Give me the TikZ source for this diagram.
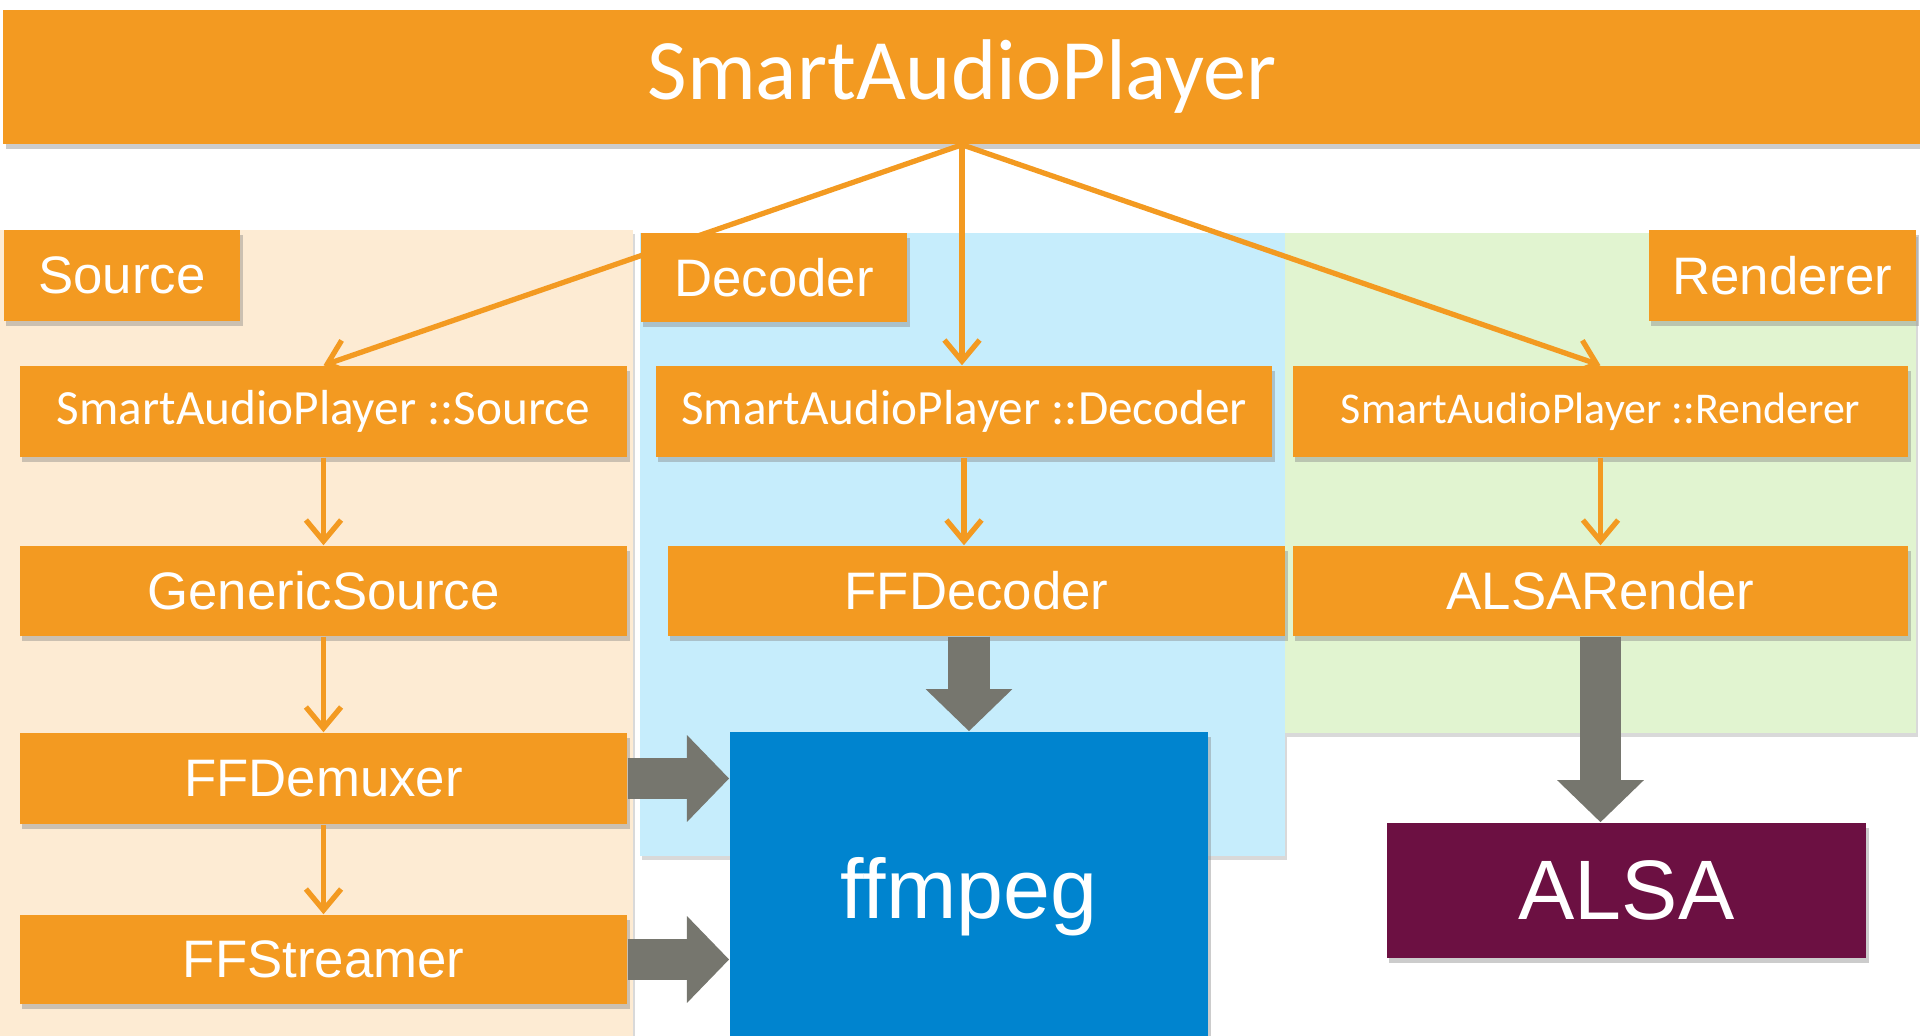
\documentclass[tikz,border=0pt]{standalone}
\usepackage{fontspec}
\setmainfont{Liberation Sans}
\newfontfamily\calibri{Carlito}
\usetikzlibrary{arrows.meta,shadows}

\definecolor{boxorange}{HTML}{F39A21}
\definecolor{srcbg}{HTML}{FDEBD3}
\definecolor{decbg}{HTML}{C6EDFC}
\definecolor{renbg}{HTML}{E1F4D0}
\definecolor{ffblue}{HTML}{0084CF}
\definecolor{alsared}{HTML}{6C1042}
\definecolor{pipegray}{HTML}{76766E}

\begin{document}
\begin{tikzpicture}[x=0.01cm, y=-0.01cm,
  panel/.style={rectangle, inner sep=0, drop shadow={shadow xshift=0.6pt, shadow yshift=-1.2pt, opacity=0.3}},
  block/.style={rectangle, fill=boxorange, text=white, inner sep=0, drop shadow={shadow xshift=0.7pt, shadow yshift=-1.4pt, opacity=0.4}},
  label/.style={block, font=\fontsize{15}{18}\selectfont},
  cls/.style={block, minimum height=0.91cm, font=\calibri\fontsize{14}{17}\selectfont},
  impl/.style={block, minimum height=0.9cm, font=\fontsize{15}{18}\selectfont},
  lib/.style={rectangle, inner sep=0, text=white, font=\fontsize{24}{28}\selectfont, drop shadow={shadow xshift=0.7pt, shadow yshift=-1.4pt, opacity=0.4}},
  link/.style={draw=boxorange, line width=1.5pt, -{Straight Barb[length=6pt,width=10pt]}},
  pipe/.style={draw=pipegray, line width=11.7pt, -{Triangle[width=24pt,length=12pt]}}]

  \useasboundingbox (0,0) rectangle (1920,1036);
  \clip (0,0) rectangle (1920,1036);

  % Group panels
  \node[panel, fill=srcbg, minimum width=6.33cm, minimum height=8.1cm] (srcpanel) at (316.5,635) {};
  \node[panel, fill=decbg, minimum width=6.45cm, minimum height=6.23cm] (decpanel) at (962.5,544.5) {};
  \node[panel, fill=renbg, minimum width=6.31cm, minimum height=5cm] (renpanel) at (1600.5,483) {};

  % Top bar
  \node[block, minimum width=19.16cm, minimum height=1.34cm, font=\calibri\fontsize{24.5}{28}\selectfont] (sap) at (962,77) {SmartAudioPlayer};

  % Group labels
  \node[label, minimum width=2.36cm, minimum height=0.91cm] (srclabel) at (122,275.5) {Source};
  \node[label, minimum width=2.66cm, minimum height=0.89cm] (declabel) at (774,277.5) {Decoder};
  \node[label, minimum width=2.67cm, minimum height=0.91cm] (renlabel) at (1782.5,275.5) {Renderer};

  % SmartAudioPlayer classes
  \node[cls, minimum width=6.07cm] (src1) at (323.5,411.5) {SmartAudioPlayer ::Source};
  \node[cls, minimum width=6.16cm] (dec1) at (964,411.5) {SmartAudioPlayer ::Decoder};
  \node[cls, minimum width=6.15cm, font=\calibri\fontsize{12.5}{15}\selectfont] (ren1) at (1600.5,411.5) {SmartAudioPlayer ::Renderer};

  % Implementations
  \node[impl, minimum width=6.07cm] (gensrc) at (323.5,591) {GenericSource};
  \node[impl, minimum width=6.17cm] (ffdec) at (976.5,591) {FFDecoder};
  \node[impl, minimum width=6.15cm] (alsaren) at (1600.5,591) {ALSARender};
  \node[impl, minimum width=6.07cm, minimum height=0.91cm] (ffdemux) at (323.5,778.5) {FFDemuxer};
  \node[impl, minimum width=6.07cm, minimum height=0.89cm] (ffstream) at (323.5,959.5) {FFStreamer};

  % Libraries
  \node[lib, fill=ffblue, minimum width=4.78cm, minimum height=3.3cm] (ffmpeg) at (969,897) {ffmpeg};
  \node[lib, fill=alsared, minimum width=4.79cm, minimum height=1.35cm] (alsa) at (1626.5,890.5) {ALSA};

  % Calls into libraries
  \draw[pipe] (ffmpeg.north |- ffdec.south) -- (ffmpeg.north);
  \draw[pipe] (alsaren.south) -- (alsaren.south |- alsa.north);
  \draw[pipe] (ffdemux.east) -- (ffmpeg.west |- ffdemux.east);
  \draw[pipe] (ffstream.east) -- (ffmpeg.west |- ffstream.east);

  % Connections
  \draw[link] (sap.south) -- (src1.north);
  \draw[link] (sap.south) -- (sap.south |- dec1.north);
  \draw[link] (sap.south) -- (ren1.north);
  \draw[link] (src1.south) -- (gensrc.north);
  \draw[link] (gensrc.south) -- (ffdemux.north);
  \draw[link] (ffdemux.south) -- (ffstream.north);
  \draw[link] (dec1.south) -- (dec1.south |- ffdec.north);
  \draw[link] (ren1.south) -- (alsaren.north);

\end{tikzpicture}
\end{document}
